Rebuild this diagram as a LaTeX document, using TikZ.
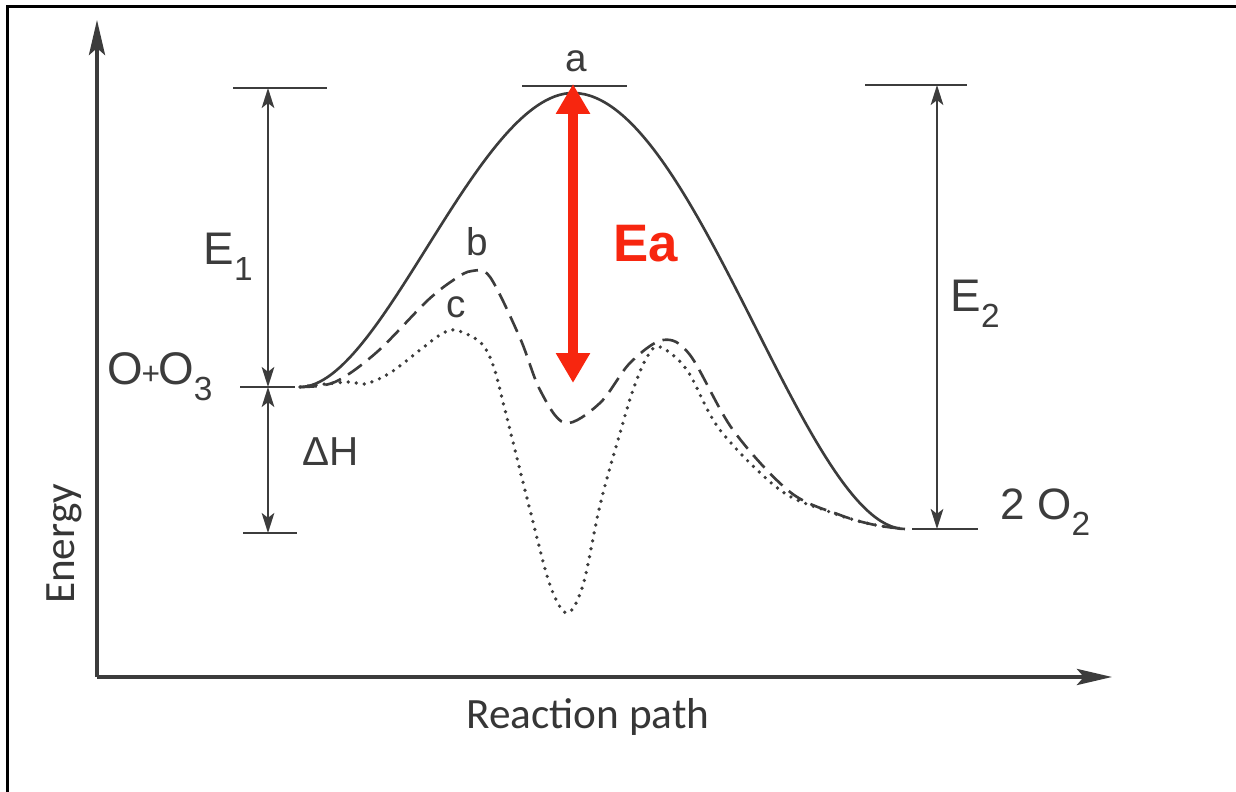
\documentclass[tikz,border=0pt]{standalone}
\usepackage{fontspec}
\setmainfont{Liberation Sans}
\newfontfamily\axisfont{Carlito}
\usetikzlibrary{arrows.meta,positioning}

\definecolor{ink}{HTML}{3C3C3C}
\definecolor{eared}{HTML}{F7260F}
\newcommand{\dropsub}[1]{\raisebox{-0.35em}{\fontsize{9.5}{10}\selectfont #1}}

\begin{document}
\begin{tikzpicture}[x=0.01cm,y=-0.01cm,
	levelline/.style={draw=ink,line width=0.65pt},
	dimline/.style={draw=ink,line width=0.6pt,
		{Stealth[length=5.7pt,width=3.6pt,inset=1.4pt]}-{Stealth[length=5.7pt,width=3.6pt,inset=1.4pt]}},
	axisarrow/.style={draw=ink,line width=0.9pt,-{Stealth[length=10pt,width=4.6pt,inset=2pt]}},
	barrierline/.style={draw=ink,line width=0.75pt},
	labeltext/.style={text=ink,inner sep=0pt,font=\fontsize{13}{15}\selectfont},
	smalltext/.style={text=ink,inner sep=0pt,font=\fontsize{11}{13}\selectfont},
	axistext/.style={text=ink!90!black,inner sep=0pt,font=\axisfont\fontsize{12.3}{14}\selectfont}]
	\useasboundingbox (0,0) rectangle (1236,792);
	
	% 1. frame (only top and left edges show)
	\draw[line width=0.8pt] (7.5,792) -- (7.5,6.5) -- (1236,6.5);
	
	% 2. axes
	\coordinate (o) at (97,677);
	\coordinate (ytip) at (97,20);
	\coordinate (xtip) at (1112,677);
	\draw[axisarrow] (o) -- (ytip);
	\draw[axisarrow] (o) -- (xtip);
	\node[axistext, rotate=90, anchor=base] (energy) at (74,544) {Energy};
	\node[axistext, anchor=base] (rpath) at (588,729) {Reaction path};
	
	% 3. energy levels
	% left side: O+O3 and the top of E1
	\coordinate (e1top) at (268,88);
	\coordinate (react) at (268,387);
	\coordinate (dhbot) at (268,533);
	\draw[levelline] (233,88) -- (327,88);
	\draw[levelline] (240,387) -- (295,387);
	\draw[levelline] (243,533) -- (297,533);
	% top of barrier a
	\coordinate (eatop) at (573,84);
	\coordinate (eabot) at (573,383);
	\draw[levelline] (522,86) -- (627,86);
	% right side: 2 O2 and the top of E2
	\coordinate (e2top) at (937,85);
	\coordinate (e2bot) at (937,529);
	\draw[levelline] (865,85) -- (967,85);
	\draw[levelline] (912,529) -- (978,529);
	
	% 4. dimension arrows
	\draw[dimline] (react) -- (e1top);
	\draw[dimline] (react) -- (dhbot);
	\draw[dimline] (e2top) -- (e2bot);
	
	% 5. the three reaction paths
	\coordinate (rs) at (300,387);
	\coordinate (peak) at (573,93);
	\coordinate (pe) at (905,529);
	% a: solid
	\draw[barrierline] (rs) .. controls (382,387) and (478,93) .. (peak)
		.. controls (695,93) and (805,529) .. (pe);
	% b: dashed
	\draw[barrierline, dash pattern=on 4.8pt off 2.4pt] plot[smooth,tension=0.55] coordinates {
		(rs) (335,382) (377,352) (427,301) (455,279) (472,271) (490,277)
		(520,338) (540,390) (565,423) (600,403) (630,363) (663,340)
		(690,355) (733,430) (790,492) (840,515) (875,525) (pe)};
	% c: dotted
	\draw[barrierline, line width=1.05pt, line cap=round, dash pattern=on 0pt off 2.3pt] plot[smooth,tension=0.55] coordinates {
		(rs) (347,382) (365,384) (390,373) (420,350) (440,335) (455,330)
		(480,342) (493,365) (505,410) (530,510) (550,585) (567,613)
		(583,585) (600,505) (618,440) (633,390) (647,357) (660,347)
		(687,370) (720,430) (780,490) (830,512) (870,524) (pe)};
	
	% 6. activation energy (red)
	\draw[draw=eared, line width=2.9pt,
		{Triangle[length=8.5pt,width=9.2pt]}-{Triangle[length=8.5pt,width=9.2pt]}]
		(eabot) -- (eatop);
	\node[text=eared, inner sep=0pt, anchor=base west,
		font=\bfseries\fontsize{15}{17}\selectfont] (ea) at (613,262) {Ea};
	
	% 7. labels
	\node[labeltext, anchor=base west] (e1) at (203,265) {E\dropsub{1}};
	\node[labeltext, anchor=base west] (e2) at (950,312) {E\dropsub{2}};
	\node[labeltext, anchor=base west] (oo3) at (107,385)
		{O\kern-0.5pt{\fontsize{9}{9}\selectfont+}\kern-0.5pt O\dropsub{3}};
	\node[labeltext, anchor=base west, font=\fontsize{11.5}{13}\selectfont] (dh) at (302,466) {ΔH};
	\node[labeltext, anchor=base west, font=\fontsize{12.5}{14}\selectfont] (o2) at (1000,520) {2 O\dropsub{2}};
	\node[smalltext, anchor=base] (a) at (576,72) {a};
	\node[smalltext, anchor=base] (b) at (477,256) {b};
	\node[smalltext, anchor=base] (c) at (456,318) {c};
\end{tikzpicture}
\end{document}
